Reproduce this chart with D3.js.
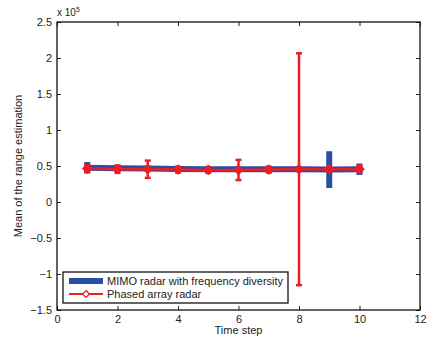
<!DOCTYPE html>
<html><head><meta charset="utf-8">
<script src="https://cdn.jsdelivr.net/npm/d3@7"></script>
<style>body{margin:0;background:#fff}svg{font-family:"Liberation Sans",Arial,sans-serif}</style>
</head><body><svg id="c" width="428" height="341"></svg>
<script>
const steps = [1,2,3,4,5,6,7,8,9,10];
const mimoMean = [0.475,0.47,0.465,0.46,0.455,0.455,0.455,0.455,0.45,0.455];
const mimoErr  = [0.08,0.05,0.04,0.04,0.04,0.04,0.04,0.04,0.255,0.08];
const phasedMean = [0.465,0.455,0.455,0.45,0.445,0.445,0.45,0.455,0.455,0.455];
const phasedErr  = [0.04,0.05,0.12,0.04,0.04,0.14,0.04,1.61,0.03,0.05];
const xTicks = [0,2,4,6,8,10,12];
const yTicks = [-1.5,-1,-0.5,0,0.5,1,1.5,2,2.5];
const seriesNames = ["MIMO radar with frequency diversity","Phased array radar"];

const svg = d3.select("#c");
const L=57,R=420,T=22,B=310;
const x = d3.scaleLinear().domain([0,12]).range([L,R]);
const y = d3.scaleLinear().domain([-1.5,2.5]).range([B,T]);
const blue="#2a4ea6", red="#ee1c25";

const fmt = d => d3.format("")(d);
svg.append("g").attr("transform",`translate(0,${B})`)
  .call(d3.axisBottom(x).tickValues(xTicks).tickSize(-4).tickPadding(5).tickFormat(fmt))
  .call(g=>g.select(".domain").remove());
svg.append("g").attr("transform",`translate(0,${T})`)
  .call(d3.axisTop(x).tickValues(xTicks).tickSize(-4).tickFormat(""))
  .call(g=>g.select(".domain").remove());
svg.append("g").attr("transform",`translate(${L},0)`)
  .call(d3.axisLeft(y).tickValues(yTicks).tickSize(-4).tickPadding(5).tickFormat(fmt))
  .call(g=>g.select(".domain").remove());
svg.append("g").attr("transform",`translate(${R},0)`)
  .call(d3.axisRight(y).tickValues(yTicks).tickSize(-4).tickFormat(""))
  .call(g=>g.select(".domain").remove());
svg.selectAll(".tick text").attr("font-size",11).attr("fill","#222").attr("font-family","Liberation Sans, Arial, sans-serif");
svg.selectAll(".tick line").attr("stroke","#222");
svg.append("rect").attr("x",L).attr("y",T).attr("width",R-L).attr("height",B-T)
  .attr("fill","none").attr("stroke","#111").attr("stroke-width",1.3);

const line = (m)=>d3.line().x((d,i)=>x(steps[i])).y(d=>y(d))(m);
const gM = svg.append("g");
gM.append("path").attr("d",line(mimoMean)).attr("fill","none").attr("stroke",blue).attr("stroke-width",6);
steps.forEach((s,i)=>{
  gM.append("line").attr("x1",x(s)).attr("x2",x(s)).attr("y1",y(mimoMean[i]-mimoErr[i])).attr("y2",y(mimoMean[i]+mimoErr[i]))
    .attr("stroke",blue).attr("stroke-width",6);
});
const gP = svg.append("g");
gP.append("path").attr("d",line(phasedMean)).attr("fill","none").attr("stroke",red).attr("stroke-width",2.5);
steps.forEach((s,i)=>{
  const lo=y(phasedMean[i]-phasedErr[i]), hi=y(phasedMean[i]+phasedErr[i]);
  gP.append("line").attr("x1",x(s)).attr("x2",x(s)).attr("y1",lo).attr("y2",hi).attr("stroke",red).attr("stroke-width",2.5);
  [lo,hi].forEach(v=>gP.append("line").attr("x1",x(s)-3).attr("x2",x(s)+3).attr("y1",v).attr("y2",v).attr("stroke",red).attr("stroke-width",2.5));
  gP.append("path").attr("d",d3.symbol(d3.symbolDiamond2,40)()).attr("transform",`translate(${x(s)},${y(phasedMean[i])})`)
    .attr("fill",red).attr("stroke",red).attr("stroke-width",2);
});

const lg = svg.append("g");
lg.append("rect").attr("x",63).attr("y",272).attr("width",225).attr("height",31).attr("fill","#fff").attr("stroke","#111").attr("stroke-width",1.3);
lg.append("line").attr("x1",69).attr("x2",103).attr("y1",281).attr("y2",281).attr("stroke",blue).attr("stroke-width",6);
lg.append("line").attr("x1",69).attr("x2",103).attr("y1",294).attr("y2",294).attr("stroke",red).attr("stroke-width",2);
lg.append("path").attr("d",d3.symbol(d3.symbolDiamond2,30)()).attr("transform","translate(86,294)").attr("fill","#fff").attr("stroke",red).attr("stroke-width",1.3);
lg.append("text").attr("x",107).attr("y",285).attr("font-size",11).attr("fill","#222").text(seriesNames[0]);
lg.append("text").attr("x",107).attr("y",298).attr("font-size",11).attr("fill","#222").text(seriesNames[1]);

svg.append("text").attr("x",(L+R)/2).attr("y",334).attr("text-anchor","middle").attr("font-size",11).attr("fill","#222").text("Time step");
svg.append("text").attr("transform",`translate(22,${(T+B)/2}) rotate(-90)`).attr("text-anchor","middle").attr("font-size",11).attr("fill","#222").text("Mean of the range estimation");
const ex = svg.append("text").attr("x",57).attr("y",16).attr("font-size",10).attr("fill","#222");
ex.append("tspan").text("x 10");
ex.append("tspan").attr("dy",-4).attr("font-size",7).text("5");
</script></body></html>
